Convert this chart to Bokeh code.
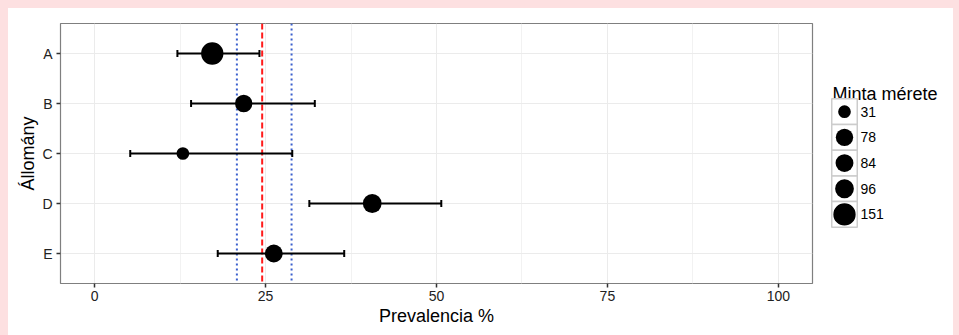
import numpy as np
from bokeh.plotting import figure
from bokeh.models import ColumnDataSource, Whisker, TeeHead, Span, FixedTicker, Range1d, FactorRange
from bokeh.layouts import row
from bokeh.embed import file_html
from bokeh.resources import INLINE
from bokeh.core.properties import value

# ---- data ----
groups = ["A", "B", "C", "D", "E"]
prevalence = [17.2, 21.8, 12.9, 40.6, 26.2]
ci_low = [12.1, 14.1, 5.2, 31.4, 18.0]
ci_high = [24.1, 32.2, 28.9, 50.7, 36.5]
sample_size = [151, 78, 31, 96, 84]
pooled = 24.5
pooled_low = 20.8
pooled_high = 28.8
x_ticks = [0, 25, 50, 75, 100]
x_minor = [(a + b) / 2 for a, b in zip(x_ticks, x_ticks[1:])]
legend_sizes = sorted(sample_size)


def marker_size(n):
    return 4.74 + 1.43 * np.sqrt(np.asarray(n, dtype=float))


FONT = "Liberation Sans"
W, H = 945, 327
MAIN_W = 820
LEG_W = W - MAIN_W
BT, BB = 15, 52  # top / bottom borders of the plotting frame

src = ColumnDataSource(dict(group=groups, prev=prevalence, lo=ci_low, hi=ci_high,
                            size=marker_size(sample_size)))

p = figure(width=MAIN_W, height=H, title=None,
           y_range=FactorRange(factors=groups[::-1], range_padding=0.1, range_padding_units="absolute"),
           x_range=Range1d(-5, 105),
           output_backend="svg", toolbar_location=None,
           min_border_left=52, min_border_right=16, min_border_top=BT, min_border_bottom=BB)
p.background_fill_color = "white"
p.border_fill_color = "white"
p.outline_line_color = "#7f7f7f"
p.outline_line_width = 1.2

ticker = FixedTicker(ticks=x_ticks, minor_ticks=x_minor)
p.xaxis.ticker = ticker
p.xgrid.ticker = ticker
p.xgrid.grid_line_color = "#ebebeb"
p.xgrid.minor_grid_line_color = "#f2f2f2"
p.ygrid.grid_line_color = "#ebebeb"

for ax in (p.xaxis[0], p.yaxis[0]):
    ax.axis_line_color = None
    ax.major_tick_in = 0
    ax.major_tick_out = 4
    ax.major_tick_line_color = "#333333"
    ax.major_tick_line_width = 1.5
    ax.minor_tick_line_color = None
    ax.major_label_text_font = FONT
    ax.major_label_text_font_size = "14px"
    ax.major_label_text_color = "#222222"
    ax.axis_label_text_font = FONT
    ax.axis_label_text_font_size = "18px"
    ax.axis_label_text_font_style = "normal"
    ax.axis_label_text_color = "black"
p.xaxis.axis_label = "Prevalencia %"
p.yaxis.axis_label = "Állomány"
p.xaxis.major_label_standoff = 3
p.yaxis.major_label_standoff = 4
p.xaxis.axis_label_standoff = 2
p.yaxis.axis_label_standoff = 1

p.add_layout(Span(location=pooled_low, dimension="height", line_color="#3a5fcd",
                  line_width=2, line_dash="2 3", level="underlay"))
p.add_layout(Span(location=pooled_high, dimension="height", line_color="#3a5fcd",
                  line_width=2, line_dash="2 3", level="underlay"))
p.add_layout(Span(location=pooled, dimension="height", line_color="#ff1a1a",
                  line_width=2, line_dash="6 3", level="underlay"))

p.add_layout(Whisker(source=src, base="group", lower="lo", upper="hi", dimension="width",
                     line_color="black", line_width=2, level="underlay",
                     lower_head=TeeHead(size=7, line_width=2, line_color="black"),
                     upper_head=TeeHead(size=7, line_width=2, line_color="black")))
p.scatter(x="prev", y="group", size="size", source=src, fill_color="black", line_color=None)

# ---- legend panel (its frame is aligned with the main frame; ranges in page pixels) ----
x0 = 8 + MAIN_W
y_top = 8 + BT
y_bot = 8 + H - BB
lg = figure(width=LEG_W, height=H, title=None, x_range=Range1d(x0, x0 + LEG_W), y_range=Range1d(y_bot, y_top),
            x_axis_location=None, y_axis_location=None, min_border_left=0, min_border_right=0,
            min_border_top=BT, min_border_bottom=BB,
            output_backend="svg", toolbar_location=None)
lg.outline_line_color = None
lg.grid.grid_line_color = None
lg.background_fill_color = "white"
lg.border_fill_color = "white"

row_h = 25.7
top = 98.3
key_x = 844
centers = [top + row_h / 2 + i * row_h for i in range(len(legend_sizes))]
lg.text(x=[832], y=[93.3], text=["Minta mérete"], text_font=value(FONT), text_font_size="18px",
        text_baseline="alphabetic", text_color="black")
lg.rect(x=[key_x] * len(centers), y=centers, width=25.5, height=row_h, fill_color="white",
        line_color="#cccccc", line_width=1.5)
lg.scatter(x=[key_x] * len(centers), y=centers, size=marker_size(legend_sizes), fill_color="black", line_color=None)
lg.text(x=[860] * len(centers), y=centers, text=[str(n) for n in legend_sizes], text_font=value(FONT),
        text_font_size="14px", text_baseline="middle", text_color="black")

layout = row(p, lg, styles={"background-color": "white"})
html = file_html(layout, INLINE)
html = html.replace("</head>",
                    "<style>html,body{background-color:#fde0e1 !important;}"
                    "body{padding:8px 0 0 8px !important;box-sizing:border-box;overflow:hidden;}</style></head>", 1)
open("out.html", "w").write(html)
